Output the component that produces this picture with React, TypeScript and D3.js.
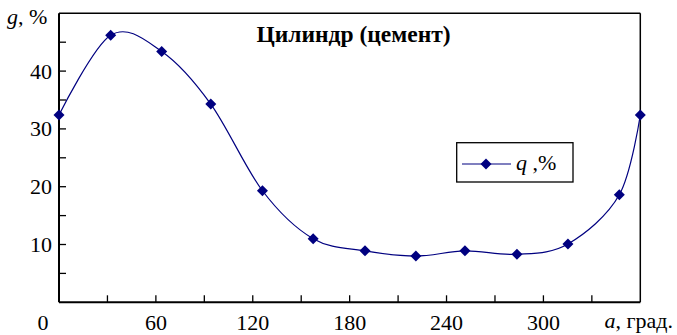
import React from "react";
import * as d3 from "d3";

const angles = [0, 32, 63.6, 94, 126, 157.4, 189.5, 221, 251.4, 283.6, 315.2, 347, 360];
const qValues = [32.4, 46.2, 43.4, 34.3, 19.3, 11.0, 8.9, 8.0, 8.9, 8.3, 10.1, 18.6, 32.4];
const xTickValues = [0, 30, 60, 90, 120, 150, 180, 210, 240, 270, 300, 330, 360];
const xLabelValues = [0, 60, 120, 180, 240, 300];
const yTickValues = [5, 10, 15, 20, 25, 30, 35, 40, 45];
const yLabelValues = [10, 20, 30, 40];
const title = "Цилиндр (цемент)";
const seriesName = " ,%";

const W = 677;
const H = 335;
const left = 59;
const right = 640.3;
const top = 13.3;
const bottom = 302.3;
const font = '"Liberation Serif", "Times New Roman", Times, serif';
const navy = "#000080";

export default function App() {
  const x = d3.scaleLinear().domain([0, 360]).range([left, right]);
  const y = d3.scaleLinear().domain([0, 50]).range([bottom, top]);
  const data = angles.map((a, i) => [a, qValues[i]] as [number, number]);
  const line = d3
    .line<[number, number]>()
    .x((d) => x(d[0]))
    .y((d) => y(d[1]))
    .curve(d3.curveCardinal.tension(0));
  const diamond = (cx: number, cy: number, r: number) =>
    `M${cx},${cy - r}L${cx + r},${cy}L${cx},${cy + r}L${cx - r},${cy}Z`;
  const ts: React.CSSProperties = { fontFamily: font };

  return (
    <svg
      width={W}
      height={H}
      style={{ position: "absolute", left: 0, top: 0, background: "#fff", fontFamily: font }}
    >
      <rect x={0} y={0} width={W} height={H} fill="#fff" />
      <line x1={left} y1={top} x2={right} y2={top} stroke="#000" strokeWidth={1.5} />
      <line x1={right} y1={top} x2={right} y2={bottom} stroke="#000" strokeWidth={1.5} />
      {yTickValues.map((v) => (
        <line key={"yt" + v} x1={left} x2={left + 7} y1={y(v)} y2={y(v)} stroke="#000" strokeWidth={1.3} />
      ))}
      {xTickValues.slice(1, -1).map((v) => (
        <line key={"xt" + v} x1={x(v)} x2={x(v)} y1={bottom} y2={bottom - 7} stroke="#000" strokeWidth={1.3} />
      ))}
      <line x1={left} y1={top} x2={left} y2={bottom} stroke="#000" strokeWidth={2} />
      <line x1={left} y1={bottom} x2={right} y2={bottom} stroke="#000" strokeWidth={2} />
      {yLabelValues.map((v) => (
        <text key={"yl" + v} style={ts} x={left - 7} y={y(v) + 7.5} fontSize={22} textAnchor="end" fill="#000">
          {v}
        </text>
      ))}
      {xLabelValues.map((v) => (
        <text
          key={"xl" + v}
          style={ts}
          x={v === 0 ? x(v) - 16 : x(v)}
          y={330}
          fontSize={22}
          textAnchor="middle"
          fill="#000"
        >
          {v}
        </text>
      ))}
      <text style={ts} x={7} y={24} fontSize={22} fill="#000">
        <tspan fontStyle="italic">g</tspan>, %
      </text>
      <text style={ts} x={673} y={328} fontSize={22} fill="#000" textAnchor="end">
        <tspan fontStyle="italic">a</tspan>, град.
      </text>
      <text style={ts} x={256.5} y={41.5} fontSize={23.5} fontWeight="bold" fill="#000">
        {title}
      </text>
      <path d={line(data) || ""} fill="none" stroke={navy} strokeWidth={1.2} />
      {data.map((d, i) => (
        <path key={"m" + i} d={diamond(x(d[0]), y(d[1]), 5.5)} fill={navy} />
      ))}
      <rect x={456.7} y={142.7} width={116.3} height={39.3} fill="#fff" stroke="#000" strokeWidth={1.3} />
      <line x1={462} x2={511} y1={164} y2={164} stroke={navy} strokeWidth={1.2} />
      <path d={diamond(486, 164, 5.5)} fill={navy} />
      <text style={ts} x={516} y={170} fontSize={22} fill="#000">
        <tspan fontStyle="italic">q</tspan>
        {seriesName}
      </text>
    </svg>
  );
}
